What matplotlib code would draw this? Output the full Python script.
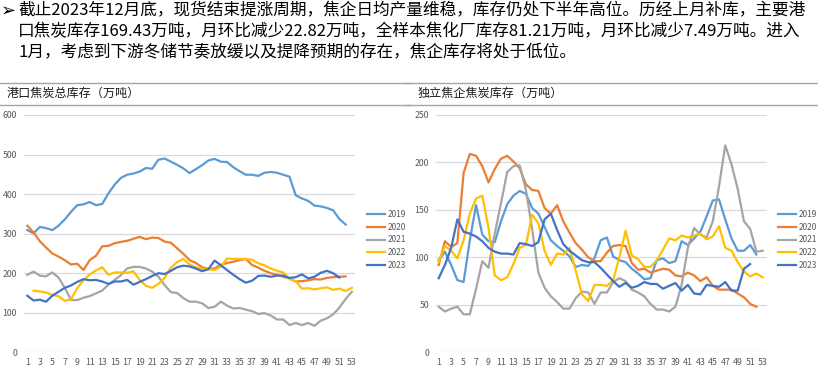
import matplotlib
matplotlib.use("Agg")
import matplotlib.pyplot as plt
from matplotlib.lines import Line2D

plt.rcParams['font.family'] = ['Noto Sans CJK SC', 'DejaVu Sans']

years = ["2019", "2020", "2021", "2022", "2023"]
colors = ["#5B9BD5", "#ED7D31", "#A5A5A5", "#FFC000", "#4472C4"]

# Port coke total inventory (10k tonnes), week index starts at 1
port_2019 = [309, 301, 317, 314, 309, 320, 336, 355, 372, 374, 380, 372, 375, 402, 424, 441,
             449, 452, 457, 466, 464, 487, 490, 482, 474, 465, 453, 463, 473, 485, 489, 482,
             481, 468, 458, 449, 449, 446, 454, 456, 454, 449, 444, 397, 389, 383, 371, 369,
             365, 359, 337, 323]
port_2020 = [320, 303, 281, 265, 250, 242, 233, 222, 224, 208, 233, 244, 268, 269, 276, 279,
             282, 287, 292, 286, 290, 289, 280, 277, 263, 249, 233, 226, 215, 211, 212, 221,
             226, 229, 233, 236, 221, 214, 206, 200, 196, 191, 187, 179, 180, 182, 185, 184,
             188, 190, 191, 192]
port_2021 = [196, 204, 194, 192, 202, 189, 163, 132, 132, 138, 142, 149, 156, 171, 183, 195,
             212, 216, 216, 212, 204, 191, 170, 152, 150, 137, 128, 128, 124, 112, 115, 128,
             118, 111, 112, 108, 104, 97, 99, 93, 83, 83, 69, 74, 69, 74, 67, 80, 86, 96, 113,
             135, 153]
port_2022 = [None, 156, 154, 151, 145, 142, 130, 134, 162, 182, 197, 207, 215, 196, 202, 202,
             201, 205, 183, 168, 163, 173, 188, 214, 228, 236, 222, 215, 210, 210, 208, 217,
             237, 236, 236, 236, 234, 225, 220, 212, 206, 202, 185, 180, 161, 162, 159, 162,
             164, 158, 161, 155, 163]
port_2023 = [143, 131, 133, 128, 143, 153, 163, 169, 178, 185, 182, 183, 179, 173, 179, 179,
             183, 171, 178, 185, 193, 200, 198, 206, 215, 219, 217, 212, 205, 210, 232, 220,
             208, 196, 185, 176, 181, 193, 194, 191, 194, 194, 188, 190, 197, 187, 191, 201,
             206, 200, 189]

# Independent coking plants coke inventory (10k tonnes)
plant_2019 = [97, 106, 92, 76, 74, 118, 155, 124, 117, 116, 138, 156, 165, 170, 167, 152,
              146, 132, 118, 112, 107, 101, 90, 92, 91, 99, 118, 121, 101, 97, 95, 88, 83, 77,
              78, 97, 99, 94, 96, 117, 113, 120, 127, 143, 160, 161, 140, 120, 107, 107, 113,
              103]
plant_2020 = [92, 117, 111, 115, 189, 209, 207, 196, 179, 193, 204, 207, 201, 194, 177, 171,
              170, 152, 146, 155, 138, 126, 115, 108, 100, 96, 96, 105, 112, 113, 112, 94, 87,
              88, 84, 86, 88, 87, 81, 80, 84, 81, 75, 79, 70, 66, 66, 66, 62, 58, 51, 48]
plant_2021 = [48, 43, 46, 48, 40, 40, 67, 96, 89, 125, 157, 190, 196, 197, 171, 130, 84, 68,
              59, 53, 46, 46, 57, 64, 63, 51, 63, 63, 74, 78, 75, 66, 63, 59, 51, 45, 45, 43,
              48, 71, 110, 131, 124, 121, 138, 175, 218, 198, 172, 138, 130, 106, 107]
plant_2022 = [95, 112, 107, 99, 118, 146, 162, 165, 131, 81, 76, 79, 93, 110, 113, 145, 136,
              107, 92, 104, 103, 110, 86, 61, 54, 71, 71, 70, 76, 100, 128, 102, 98, 90, 90,
              97, 108, 120, 118, 123, 121, 123, 125, 119, 122, 133, 110, 107, 95, 85, 80, 83,
              79]
plant_2023 = [78, 92, 110, 140, 127, 125, 122, 117, 110, 106, 104, 104, 103, 115, 114, 112,
              116, 140, 146, 129, 114, 107, 102, 97, 95, 95, 89, 82, 75, 69, 73, 68, 70, 74,
              72, 72, 67, 70, 73, 65, 71, 62, 61, 71, 70, 69, 74, 65, 65, 88, 93]

xticks = list(range(1, 54, 2))

header_lines = [
    "截止2023年12月底，现货结束提涨周期，焦企日均产量维稳，库存仍处下半年高位。历经上月补库，主要港",
    "口焦炭库存169.43万吨，月环比减少22.82万吨，全样本焦化厂库存81.21万吨，月环比减少7.49万吨。进入",
    "1月，考虑到下游冬储节奏放缓以及提降预期的存在，焦企库存将处于低位。",
]
title_left = "港口焦炭总库存（万吨）"
title_right = "独立焦企焦炭库存（万吨）"

W, H = 818, 369
fig = plt.figure(figsize=(W / 100, H / 100), dpi=100)
fig.patch.set_facecolor("white")


def fx(px):
    return px / W


def fy(py):
    return 1 - py / H


# header
fig.text(fx(1), fy(11), "➢", fontsize=13, va="center", ha="left",
         family=["DejaVu Sans"], color="black")
for i, line in enumerate(header_lines):
    fig.text(fx(18), fy(11 + 21 * i), line, fontsize=12.0, va="center", ha="left",
             color="black")

# panel separators
for (x0, x1) in [(0, 410), (405, 818)]:
    for yy in (82.5, 105):
        fig.add_artist(Line2D([fx(x0), fx(x1)], [fy(yy), fy(yy)], color="#A6A6A6", lw=1.0))

fig.text(fx(7), fy(93.5), title_left, fontsize=8.7, va="center", ha="left", color="#1a1a1a")
fig.text(fx(418), fy(93.5), title_right, fontsize=8.7, va="center", ha="left", color="#1a1a1a")


def make_axes(left_px, right_px, top_px, bottom_px, series, ymax, ystep, xlim, leg_x):
    ax = fig.add_axes([fx(left_px), fy(bottom_px), fx(right_px - left_px),
                       (bottom_px - top_px) / H])
    for data, c, lab in zip(series, colors, years):
        xs = [i + 1 for i, v in enumerate(data) if v is not None]
        ys = [v for v in data if v is not None]
        ax.plot(xs, ys, color=c, lw=1.6, label=lab, solid_joinstyle="round")
    ax.set_xlim(*xlim)
    ax.set_ylim(0, ymax)
    ax.set_yticks(range(0, ymax + 1, ystep))
    ax.set_xticks(xticks)
    ax.grid(axis="y", color="#D9D9D9", lw=0.9)
    ax.set_axisbelow(True)
    for s in ax.spines.values():
        s.set_visible(False)
    ax.tick_params(axis="both", length=0, labelsize=6.3, colors="#595959", pad=5)
    ax.tick_params(axis="x", pad=4)
    leg = ax.legend(loc="center left", bbox_to_anchor=(fx(leg_x), fy(240)),
                    bbox_transform=fig.transFigure, frameon=False, fontsize=6.0,
                    handlelength=2.2, handletextpad=0.25, labelspacing=0.43,
                    borderpad=0, borderaxespad=0)
    for t in leg.get_texts():
        t.set_color("#595959")
    return ax


make_axes(24, 355, 115, 352.3,
          [port_2019, port_2020, port_2021, port_2022, port_2023],
          600, 100, (0.47, 53.5), 367)
make_axes(436, 767, 115, 352.3,
          [plant_2019, plant_2020, plant_2021, plant_2022, plant_2023],
          250, 50, (0.57, 53.7), 778)

fig.savefig("out.png", dpi=100)
